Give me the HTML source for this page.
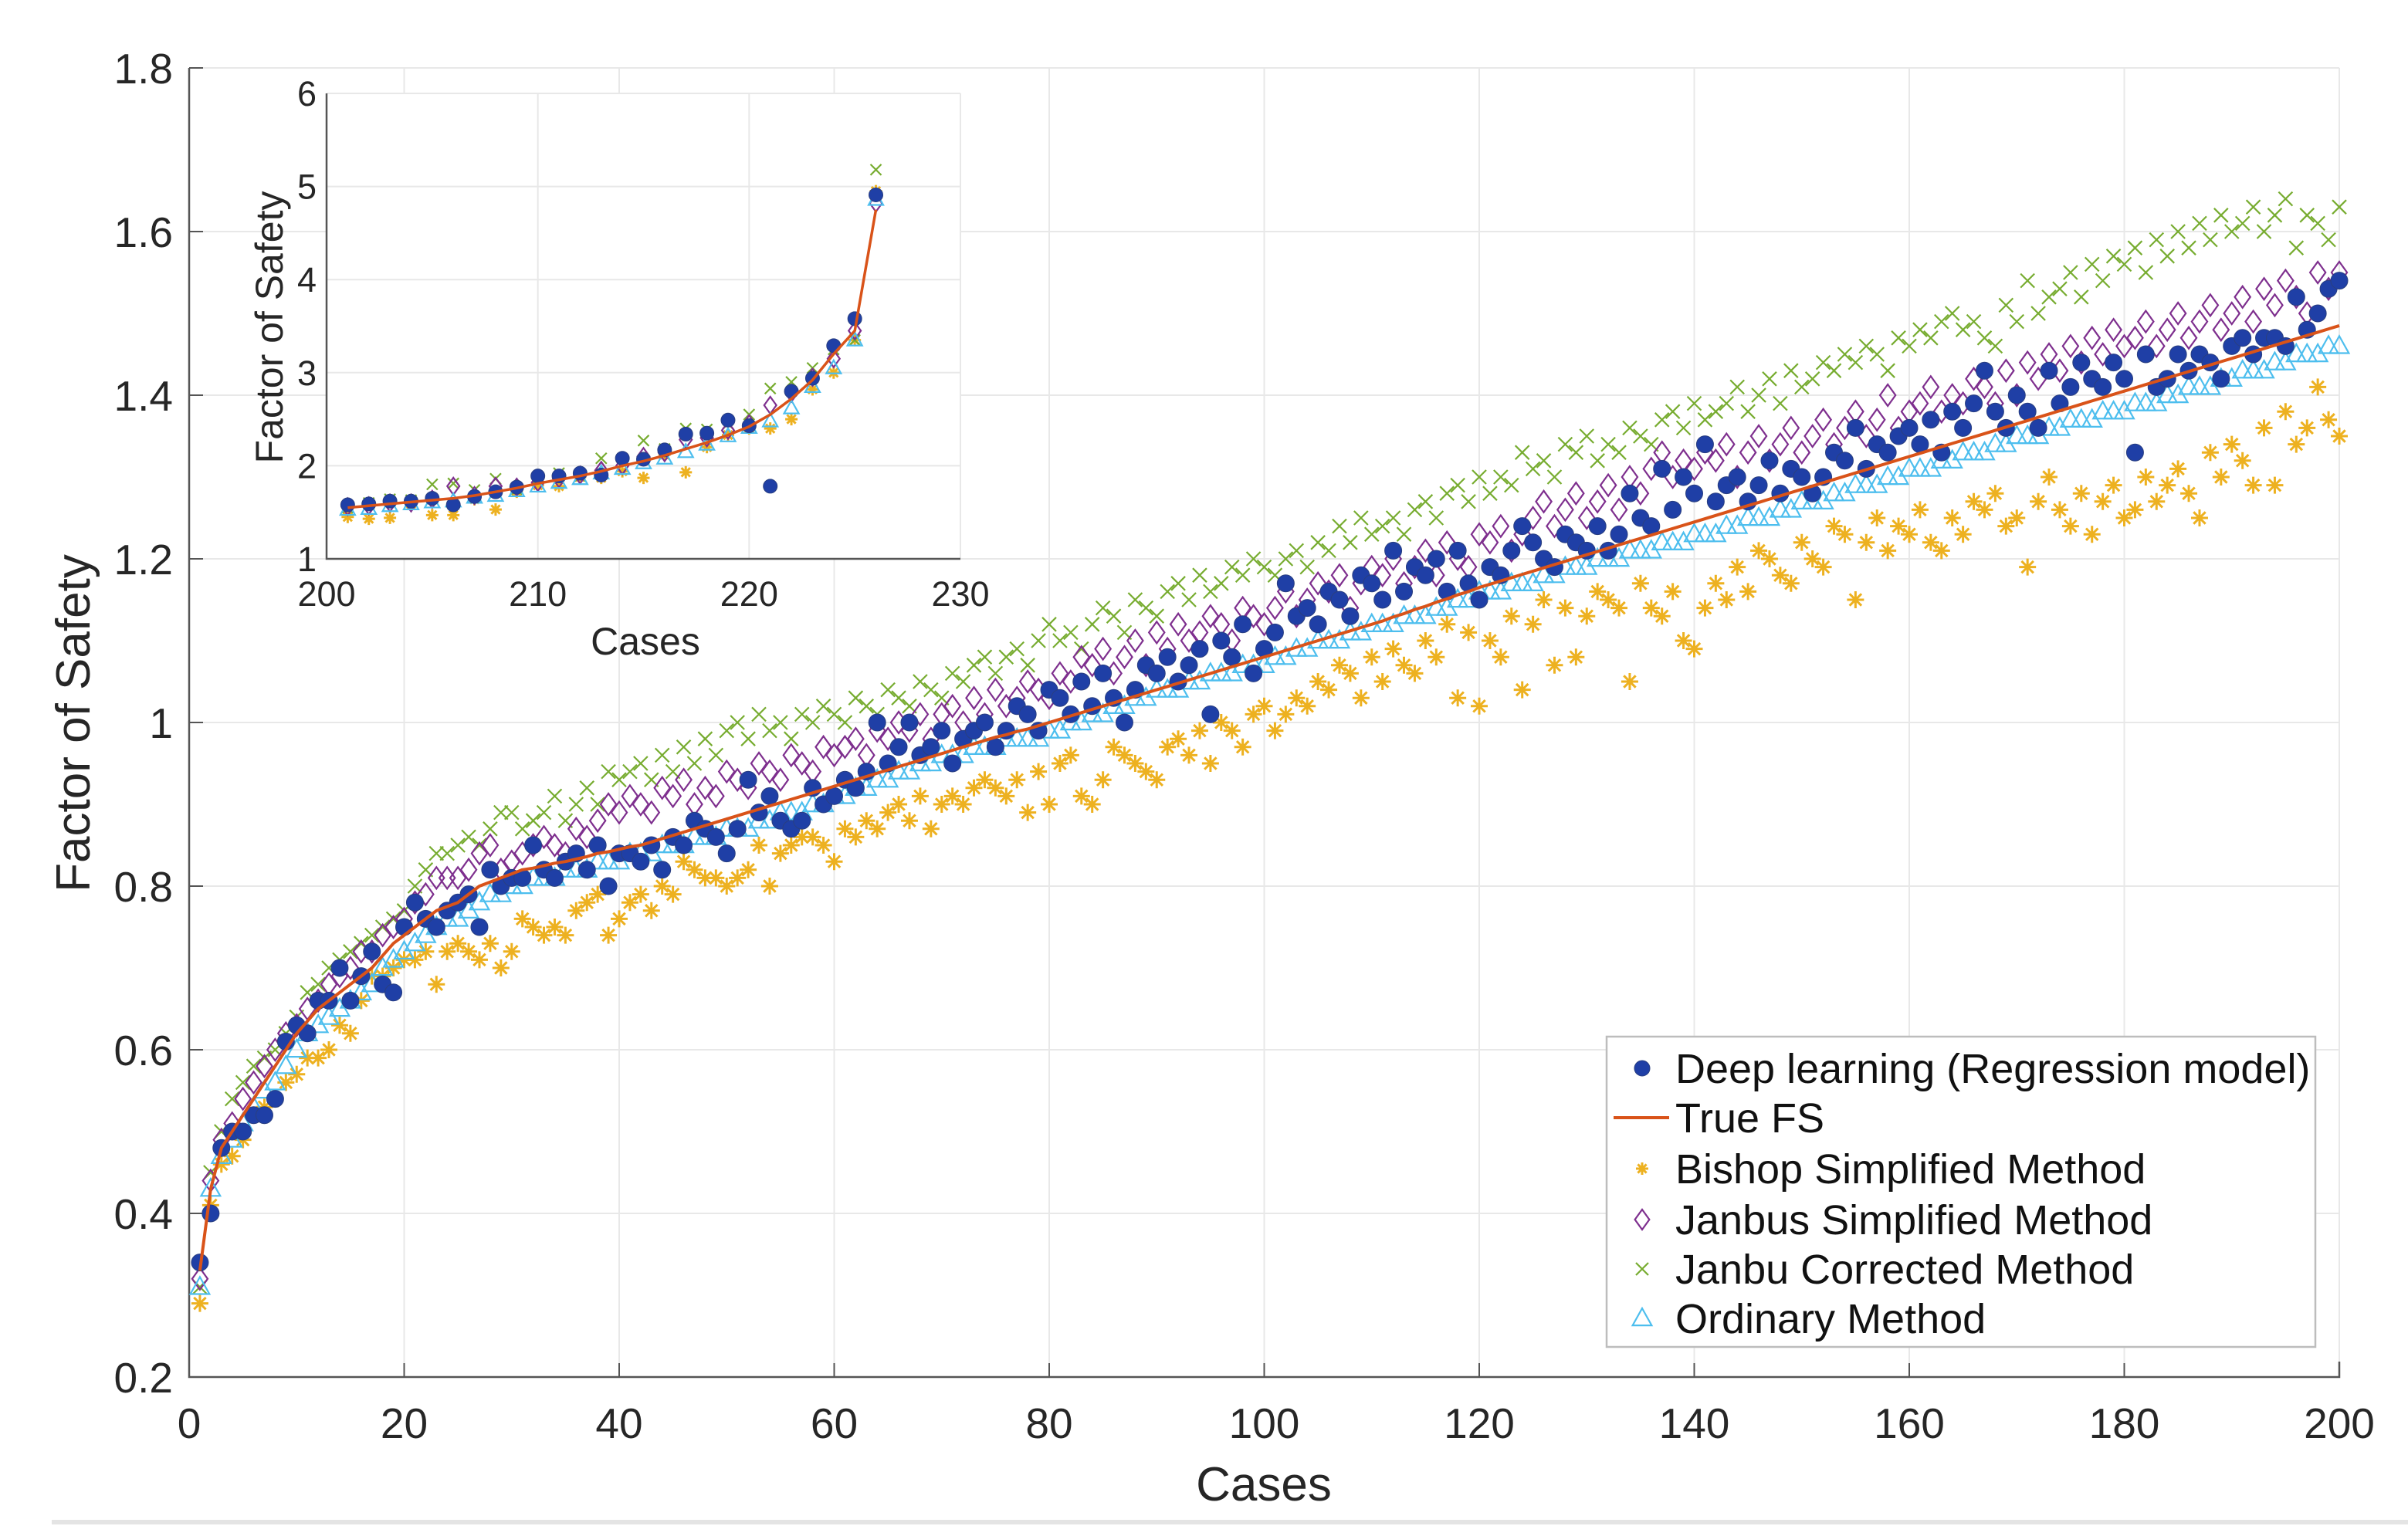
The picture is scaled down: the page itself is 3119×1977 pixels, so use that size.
<!DOCTYPE html>
<html><head><meta charset="utf-8"><style>
html,body{margin:0;padding:0;background:#fff;}
svg{display:block;font-family:"Liberation Sans",Arial,sans-serif;}
</style></head><body>
<svg id="chart" width="3119" height="1977" viewBox="0 0 3119 1977" xmlns="http://www.w3.org/2000/svg">
<rect x="0" y="0" width="3119" height="1977" fill="#fff"/>
<line x1="67" y1="1972" x2="3119" y2="1972" stroke="#e4e4e4" stroke-width="6"/>
<g id="main"></g>
<g id="inset"></g>
<g id="legend"></g>
</svg>
<script>
const cases = Array.from({length:200},(_, i)=>i+1);
const trueFS = [0.33,0.43,0.48,0.50,0.52,0.54,0.56,0.58,0.60,0.62,
0.635,0.65,0.66,0.67,0.68,0.69,0.70,0.715,0.73,0.74,
0.75,0.76,0.77,0.775,0.78,0.79,0.80,0.805,0.81,0.815,
0.82,0.822,0.825,0.828,0.83,0.833,0.836,0.84,0.842,0.845,
0.848,0.85,0.854,0.858,0.862,0.866,0.87,0.874,0.878,0.882,
0.886,0.89,0.894,0.898,0.902,0.906,0.91,0.914,0.918,0.922,
0.926,0.930,0.934,0.938,0.942,0.946,0.950,0.954,0.958,0.962,
0.966,0.970,0.974,0.978,0.982,0.985,0.989,0.992,0.996,1.000,
1.004,1.008,1.012,1.016,1.020,1.024,1.028,1.032,1.036,1.040,
1.044,1.048,1.052,1.056,1.060,1.064,1.068,1.072,1.076,1.080,
1.084,1.088,1.092,1.096,1.100,1.104,1.108,1.112,1.116,1.120,
1.124,1.129,1.133,1.138,1.142,1.147,1.151,1.156,1.160,1.165,
1.169,1.173,1.177,1.181,1.185,1.189,1.193,1.197,1.201,1.205,
1.209,1.213,1.217,1.221,1.225,1.229,1.233,1.237,1.241,1.245,
1.249,1.253,1.257,1.261,1.265,1.269,1.273,1.277,1.281,1.285,
1.289,1.293,1.297,1.301,1.305,1.309,1.313,1.317,1.321,1.325,
1.329,1.333,1.337,1.341,1.345,1.349,1.353,1.357,1.361,1.365,
1.369,1.373,1.377,1.381,1.385,1.389,1.393,1.397,1.401,1.405,
1.409,1.413,1.417,1.421,1.425,1.429,1.433,1.437,1.441,1.445,
1.449,1.453,1.457,1.461,1.465,1.469,1.473,1.477,1.481,1.485];
const bishop = [.29,.41,.46,.47,.49,.52,.53,.54,.56,.57,
.59,.59,.60,.63,.62,.66,.69,.69,.70,.71,
.71,.72,.68,.72,.73,.72,.71,.73,.70,.72,
.76,.75,.74,.75,.74,.77,.78,.79,.74,.76,
.78,.79,.77,.80,.79,.83,.82,.81,.81,.80,
.81,.82,.85,.80,.84,.85,.86,.86,.85,.83,
.87,.86,.88,.87,.89,.90,.88,.91,.87,.90,
.91,.90,.92,.93,.92,.91,.93,.89,.94,.90,
.95,.96,.91,.90,.93,.97,.96,.95,.94,.93,
.97,.98,.96,.99,.95,1.00,.99,.97,1.01,1.02,
.99,1.01,1.03,1.02,1.05,1.04,1.07,1.06,1.03,1.08,
1.05,1.09,1.07,1.06,1.10,1.08,1.12,1.03,1.11,1.02,
1.10,1.08,1.13,1.04,1.12,1.15,1.07,1.14,1.08,1.13,
1.16,1.15,1.14,1.05,1.17,1.14,1.13,1.16,1.10,1.09,
1.14,1.17,1.15,1.19,1.16,1.21,1.20,1.18,1.17,1.22,
1.20,1.19,1.24,1.23,1.15,1.22,1.25,1.21,1.24,1.23,
1.26,1.22,1.21,1.25,1.23,1.27,1.26,1.28,1.24,1.25,
1.19,1.27,1.30,1.26,1.24,1.28,1.23,1.27,1.29,1.25,
1.26,1.30,1.27,1.29,1.31,1.28,1.25,1.33,1.30,1.34,
1.32,1.29,1.36,1.29,1.38,1.34,1.36,1.41,1.37,1.35];
const janbuSimp = [.32,.44,.49,.51,.54,.56,.58,.60,.62,.63,
.65,.66,.68,.69,.70,.72,.72,.74,.75,.76,
.78,.79,.81,.81,.81,.82,.84,.85,.82,.83,
.84,.85,.86,.85,.84,.87,.86,.88,.90,.89,
.91,.90,.89,.92,.91,.93,.90,.92,.91,.94,
.93,.92,.95,.94,.93,.96,.95,.94,.97,.96,
.97,.98,.96,.99,.98,1.00,.99,1.01,.98,1.01,
1.02,1.00,1.03,1.01,1.04,1.02,1.03,1.05,1.04,1.03,
1.06,1.05,1.08,1.07,1.09,1.06,1.08,1.10,1.07,1.11,
1.09,1.12,1.10,1.11,1.13,1.12,1.10,1.14,1.13,1.12,
1.14,1.16,1.13,1.15,1.17,1.16,1.18,1.14,1.17,1.19,
1.18,1.20,1.17,1.19,1.21,1.18,1.22,1.20,1.19,1.23,
1.22,1.24,1.21,1.23,1.25,1.27,1.24,1.26,1.28,1.25,
1.27,1.29,1.26,1.30,1.28,1.31,1.33,1.30,1.32,1.31,
1.33,1.32,1.34,1.30,1.33,1.35,1.32,1.34,1.36,1.33,
1.35,1.37,1.34,1.36,1.38,1.35,1.37,1.40,1.36,1.38,
1.39,1.41,1.38,1.40,1.39,1.42,1.41,1.39,1.43,1.40,
1.44,1.42,1.45,1.43,1.46,1.44,1.47,1.45,1.48,1.46,
1.47,1.49,1.46,1.48,1.50,1.47,1.49,1.51,1.48,1.50,
1.52,1.49,1.53,1.51,1.54,1.52,1.50,1.55,1.53,1.55];
const janbuCorr = [.31,.45,.50,.54,.56,.58,.59,.60,.62,.64,
.67,.68,.70,.71,.72,.73,.74,.75,.76,.77,
.80,.82,.84,.84,.85,.86,.85,.87,.89,.89,
.87,.88,.89,.91,.88,.90,.92,.90,.94,.93,
.94,.95,.93,.96,.94,.97,.95,.98,.96,.99,
1.00,.98,1.01,.99,1.00,.98,1.01,1.00,1.02,1.01,
1.00,1.03,1.02,1.01,1.04,1.03,1.02,1.05,1.04,1.03,
1.06,1.05,1.07,1.08,1.06,1.08,1.09,1.07,1.10,1.12,
1.10,1.11,1.09,1.12,1.14,1.13,1.11,1.15,1.14,1.13,
1.16,1.17,1.15,1.18,1.16,1.17,1.19,1.18,1.20,1.19,
1.18,1.20,1.21,1.19,1.22,1.21,1.24,1.22,1.25,1.23,
1.24,1.25,1.23,1.26,1.27,1.25,1.28,1.29,1.27,1.30,
1.28,1.30,1.29,1.33,1.31,1.32,1.30,1.34,1.33,1.35,
1.32,1.34,1.33,1.36,1.35,1.34,1.37,1.38,1.36,1.39,
1.37,1.38,1.39,1.41,1.38,1.40,1.42,1.39,1.43,1.41,
1.42,1.44,1.43,1.45,1.44,1.46,1.45,1.43,1.47,1.46,
1.48,1.47,1.49,1.50,1.48,1.49,1.47,1.46,1.51,1.49,
1.54,1.50,1.52,1.53,1.55,1.52,1.56,1.54,1.57,1.56,
1.58,1.55,1.59,1.57,1.60,1.58,1.61,1.59,1.62,1.60,
1.61,1.63,1.60,1.62,1.64,1.58,1.62,1.61,1.59,1.63];
const ordinary = [.31,.43,.47,.49,.51,.53,.55,.56,.58,.60,
.62,.63,.64,.65,.66,.67,.68,.70,.71,.72,
.73,.74,.75,.76,.76,.77,.78,.79,.79,.80,
.80,.81,.81,.81,.82,.82,.82,.83,.83,.83,
.84,.84,.84,.85,.85,.85,.86,.86,.86,.87,
.87,.87,.88,.88,.89,.89,.89,.90,.90,.91,
.91,.92,.92,.93,.93,.94,.94,.95,.95,.96,
.96,.96,.97,.97,.97,.98,.98,.98,.98,.99,
.99,1.00,1.00,1.01,1.01,1.02,1.02,1.03,1.03,1.04,
1.04,1.04,1.05,1.05,1.06,1.06,1.06,1.07,1.07,1.07,
1.08,1.08,1.09,1.09,1.10,1.10,1.10,1.11,1.11,1.12,
1.12,1.12,1.13,1.13,1.13,1.14,1.14,1.15,1.15,1.16,
1.16,1.16,1.17,1.17,1.17,1.18,1.18,1.19,1.19,1.19,
1.20,1.20,1.20,1.21,1.21,1.21,1.22,1.22,1.22,1.23,
1.23,1.23,1.24,1.24,1.25,1.25,1.25,1.26,1.26,1.27,
1.27,1.27,1.28,1.28,1.29,1.29,1.29,1.30,1.30,1.31,
1.31,1.31,1.32,1.32,1.33,1.33,1.33,1.34,1.34,1.35,
1.35,1.35,1.36,1.36,1.37,1.37,1.37,1.38,1.38,1.38,
1.39,1.39,1.39,1.40,1.40,1.41,1.41,1.41,1.42,1.42,
1.43,1.43,1.43,1.44,1.44,1.45,1.45,1.45,1.46,1.46];
const deep = [.34,.40,.48,.50,.50,.52,.52,.54,.61,.63,
.62,.66,.66,.70,.66,.69,.72,.68,.67,.75,
.78,.76,.75,.77,.78,.79,.75,.82,.80,.81,
.81,.85,.82,.81,.83,.84,.82,.85,.80,.84,
.84,.83,.85,.82,.86,.85,.88,.87,.86,.84,
.87,.93,.89,.91,.88,.87,.88,.92,.90,.91,
.93,.92,.94,1.00,.95,.97,1.00,.96,.97,.99,
.95,.98,.99,1.00,.97,.99,1.02,1.01,.99,1.04,
1.03,1.01,1.05,1.02,1.06,1.03,1.00,1.04,1.07,1.06,
1.08,1.05,1.07,1.09,1.01,1.10,1.08,1.12,1.06,1.09,
1.11,1.17,1.13,1.14,1.12,1.16,1.15,1.13,1.18,1.17,
1.15,1.21,1.16,1.19,1.18,1.20,1.16,1.21,1.17,1.15,
1.19,1.18,1.21,1.24,1.22,1.20,1.19,1.23,1.22,1.21,
1.24,1.21,1.23,1.28,1.25,1.24,1.31,1.26,1.30,1.28,
1.34,1.27,1.29,1.30,1.27,1.29,1.32,1.28,1.31,1.30,
1.28,1.30,1.33,1.32,1.36,1.31,1.34,1.33,1.35,1.36,
1.34,1.37,1.33,1.38,1.36,1.39,1.43,1.38,1.36,1.40,
1.38,1.36,1.43,1.39,1.41,1.44,1.42,1.41,1.44,1.42,
1.33,1.45,1.41,1.42,1.45,1.43,1.45,1.44,1.42,1.46,
1.47,1.45,1.47,1.47,1.46,1.52,1.48,1.50,1.53,1.54];
const xTicks = [0,20,40,60,80,100,120,140,160,180,200];
const yTicks = [0.2,0.4,0.6,0.8,1,1.2,1.4,1.6,1.8];
const yTickLabels = ["0.2","0.4","0.6","0.8","1","1.2","1.4","1.6","1.8"];

const insetCases = Array.from({length:26},(_, i)=>i+201);
const insetTrue = [1.55,1.57,1.59,1.61,1.63,1.65,1.68,1.72,1.76,1.81,1.85,1.89,1.94,2.00,2.05,2.11,2.18,2.25,2.33,2.42,2.55,2.72,2.92,3.20,3.45,4.75];
const insetDeep = [1.58,1.59,1.62,1.62,1.65,1.58,1.67,1.72,1.77,1.89,1.89,1.92,1.90,2.08,2.07,2.17,2.34,2.35,2.49,2.43,1.78,2.80,2.94,3.29,3.58,4.91];
const insetBishop = [1.45,1.43,1.44,1.59,1.47,1.47,1.64,1.53,1.72,1.79,1.78,1.88,1.87,1.94,1.87,2.12,1.93,2.20,2.33,2.40,2.40,2.50,2.82,3.00,3.35,4.95];
const insetJanbuSimp = [1.56,1.57,1.60,1.60,1.64,1.78,1.68,1.78,1.77,1.82,1.86,1.90,1.95,2.00,2.10,2.14,2.28,2.30,2.38,2.45,2.65,2.78,2.95,3.15,3.45,4.82];
const insetJanbuCorr = [1.55,1.60,1.64,1.63,1.80,1.81,1.74,1.86,1.75,1.87,1.92,1.89,2.08,2.07,2.27,2.18,2.40,2.39,2.45,2.55,2.83,2.90,3.05,3.25,3.35,5.18];
const insetOrdinary = [1.53,1.54,1.57,1.59,1.61,1.62,1.66,1.68,1.73,1.78,1.82,1.86,1.92,1.97,2.03,2.08,2.15,2.23,2.32,2.41,2.48,2.62,2.85,3.05,3.35,4.86];
const insetXTicks = [200,210,220,230];
const insetYTicks = [1,2,3,4,5,6];

const NS = "http://www.w3.org/2000/svg";
const C = {deep:"#1f3fa6", red:"#d95319", bishop:"#edb120", jsimp:"#7e2f8e", jcorr:"#77ac30", ord:"#4dbeee"};
function mk(tag, attrs, parent){const e=document.createElementNS(NS,tag);for(const k in attrs)e.setAttribute(k,attrs[k]);parent.appendChild(e);return e;}

function marker(g, type, cx, cy, s){
  let e;
  if(type==="dot"){e=mk("circle",{cx:cx,cy:cy,r:s,fill:C.deep,stroke:"#2a3f80","stroke-width":1},g);}
  else if(type==="diamond"){e=mk("polygon",{points:`${cx},${cy-s} ${cx+s*0.72},${cy} ${cx},${cy+s} ${cx-s*0.72},${cy}`,fill:"none",stroke:C.jsimp,"stroke-width":2.2},g);}
  else if(type==="tri"){e=mk("polygon",{points:`${cx},${cy-s} ${cx+s*0.95},${cy+s*0.7} ${cx-s*0.95},${cy+s*0.7}`,fill:"none",stroke:C.ord,"stroke-width":2.2},g);}
  else if(type==="x"){e=mk("path",{d:`M${cx-s},${cy-s}L${cx+s},${cy+s}M${cx-s},${cy+s}L${cx+s},${cy-s}`,stroke:C.jcorr,"stroke-width":2.2,fill:"none"},g);}
  else {e=mk("path",{d:`M${cx-s},${cy}L${cx+s},${cy}M${cx},${cy-s}L${cx},${cy+s}M${cx-s*0.7},${cy-s*0.7}L${cx+s*0.7},${cy+s*0.7}M${cx-s*0.7},${cy+s*0.7}L${cx+s*0.7},${cy-s*0.7}`,stroke:C.bishop,"stroke-width":3,fill:"none"},g);}
  return e;
}

// ---------- main axes ----------
const M={x0:245,x1:3030,y0:1784,y1:88,xmin:0,xmax:200,ymin:0.2,ymax:1.8};
const mx=v=>M.x0+(v-M.xmin)/(M.xmax-M.xmin)*(M.x1-M.x0);
const my=v=>M.y0-(v-M.ymin)/(M.ymax-M.ymin)*(M.y0-M.y1);
const main=document.getElementById("main");


xTicks.forEach(t=>{
  const gl=mk("line",{x1:mx(t),y1:M.y0,x2:mx(t),y2:M.y1,stroke:"#e8e8e8","stroke-width":2},main);
  
  
  const tk=mk("line",{x1:mx(t),y1:M.y0,x2:mx(t),y2:M.y0-18,stroke:"#555","stroke-width":2},main);
  
  
  const tl=mk("text",{x:mx(t),y:1863,"text-anchor":"middle","font-size":55,fill:"#262626"},main);
  tl.textContent=t;
  
  
});
yTicks.forEach((t,i)=>{
  const gl=mk("line",{x1:M.x0,y1:my(t),x2:M.x1,y2:my(t),stroke:"#e8e8e8","stroke-width":2},main);
  
  
  const tk=mk("line",{x1:M.x0,y1:my(t),x2:M.x0+18,y2:my(t),stroke:"#555","stroke-width":2},main);
  
  
  const tl=mk("text",{x:224,y:my(t)+20,"text-anchor":"end","font-size":55,fill:"#262626"},main);
  tl.textContent=yTickLabels[i];
  
  
});
const ax=mk("path",{d:`M${M.x0},${M.y1}L${M.x0},${M.y0}L${M.x1},${M.y0}L${M.x1},${M.y0-20}`,stroke:"#555","stroke-width":2.5,fill:"none"},main);


const xt=mk("text",{x:1637,y:1944,"text-anchor":"middle","font-size":62,fill:"#262626"},main);
xt.textContent="Cases";


const yt=mk("text",{x:0,y:0,"text-anchor":"middle","font-size":62,fill:"#262626",transform:"translate(116,937) rotate(-90)"},main);
yt.textContent="Factor of Safety";



function drawSeries(parent, xs, ys, type, size, fx, fy, name){
  const g=mk("g",{},parent);
  
  
  xs.forEach((x,i)=>{
    const m=marker(g,type,fx(x),fy(ys[i]),size);
    
    
  });
}
function drawLine(parent, xs, ys, fx, fy, name, w){
  const p=mk("path",{d:xs.map((x,i)=>(i?"L":"M")+fx(x).toFixed(1)+","+fy(ys[i]).toFixed(1)).join(""),stroke:C.red,"stroke-width":w,fill:"none","stroke-linejoin":"round"},parent);
  
  
}
drawSeries(main,cases,bishop,"star",11,mx,my,"bishop-simplified-series");
drawSeries(main,cases,janbuCorr,"x",9,mx,my,"janbu-corrected-series");
drawSeries(main,cases,janbuSimp,"diamond",14,mx,my,"janbu-simplified-series");
drawSeries(main,cases,ordinary,"tri",13,mx,my,"ordinary-method-series");
drawSeries(main,cases,deep,"dot",11,mx,my,"deep-learning-series");
drawLine(main,cases,trueFS,mx,my,"true-fs-line",4);

// ---------- inset ----------
const I={x0:423,x1:1244,y0:724,y1:121,xmin:200,xmax:230,ymin:1,ymax:6};
const ix=v=>I.x0+(v-I.xmin)/(I.xmax-I.xmin)*(I.x1-I.x0);
const iy=v=>I.y0-(v-I.ymin)/(I.ymax-I.ymin)*(I.y0-I.y1);
const inset=document.getElementById("inset");


const ibg=mk("rect",{x:I.x0,y:I.y1,width:I.x1-I.x0,height:I.y0-I.y1,fill:"#fff"},inset);


insetXTicks.forEach(t=>{
  const gl=mk("line",{x1:ix(t),y1:I.y0,x2:ix(t),y2:I.y1,stroke:"#e8e8e8","stroke-width":2},inset);
  
  
  const tl=mk("text",{x:ix(t),y:785,"text-anchor":"middle","font-size":45,fill:"#262626"},inset);
  tl.textContent=t;
  
  
});
insetYTicks.forEach(t=>{
  const gl=mk("line",{x1:I.x0,y1:iy(t),x2:I.x1,y2:iy(t),stroke:"#e8e8e8","stroke-width":2},inset);
  
  
  const tl=mk("text",{x:410,y:iy(t)+16,"text-anchor":"end","font-size":45,fill:"#262626"},inset);
  tl.textContent=t;
  
  
});
const iax=mk("path",{d:`M${I.x0},${I.y1}L${I.x0},${I.y0}L${I.x1},${I.y0}`,stroke:"#555","stroke-width":2.5,fill:"none"},inset);


const ixt=mk("text",{x:836,y:848,"text-anchor":"middle","font-size":50,fill:"#262626"},inset);
ixt.textContent="Cases";


const iyt=mk("text",{x:0,y:0,"text-anchor":"middle","font-size":50,fill:"#262626",transform:"translate(366,424) rotate(-90)"},inset);
iyt.textContent="Factor of Safety";


drawSeries(inset,insetCases,insetBishop,"star",8,ix,iy,"inset-bishop-series");
drawSeries(inset,insetCases,insetJanbuCorr,"x",7,ix,iy,"inset-janbu-corrected-series");
drawSeries(inset,insetCases,insetJanbuSimp,"diamond",11,ix,iy,"inset-janbu-simplified-series");
drawSeries(inset,insetCases,insetOrdinary,"tri",10,ix,iy,"inset-ordinary-series");
drawSeries(inset,insetCases,insetDeep,"dot",9,ix,iy,"inset-deep-learning-series");
drawLine(inset,insetCases,insetTrue,ix,iy,"inset-true-fs-line",3.5);

// ---------- legend ----------
const legendLabels=["Deep learning (Regression model)","True FS","Bishop Simplified Method","Janbus Simplified Method","Janbu Corrected Method","Ordinary Method"];
const legendTypes=["dot","line","star","diamond","x","tri"];
const leg=document.getElementById("legend");


const lb=mk("rect",{x:2081,y:1343,width:918,height:402,fill:"#fff",stroke:"#bdbdbd","stroke-width":2.5},leg);


const legY=[1384,1448,1514,1580,1644,1708];
legendLabels.forEach((lab,i)=>{
  const g=mk("g",{},leg);
  
  
  if(legendTypes[i]==="line"){
    const l=mk("line",{x1:2090,y1:legY[i],x2:2162,y2:legY[i],stroke:C.red,"stroke-width":4},g);
    
    
  } else {
    const m=marker(g,legendTypes[i],2127,legY[i],legendTypes[i]==="dot"?10:(legendTypes[i]==="x"||legendTypes[i]==="star"?8:13));
    
    
  }
  const t=mk("text",{x:2170,y:legY[i]+19,"font-size":54,fill:"#111"},g);
  t.textContent=lab;
  
  
});
</script>
</body></html>
